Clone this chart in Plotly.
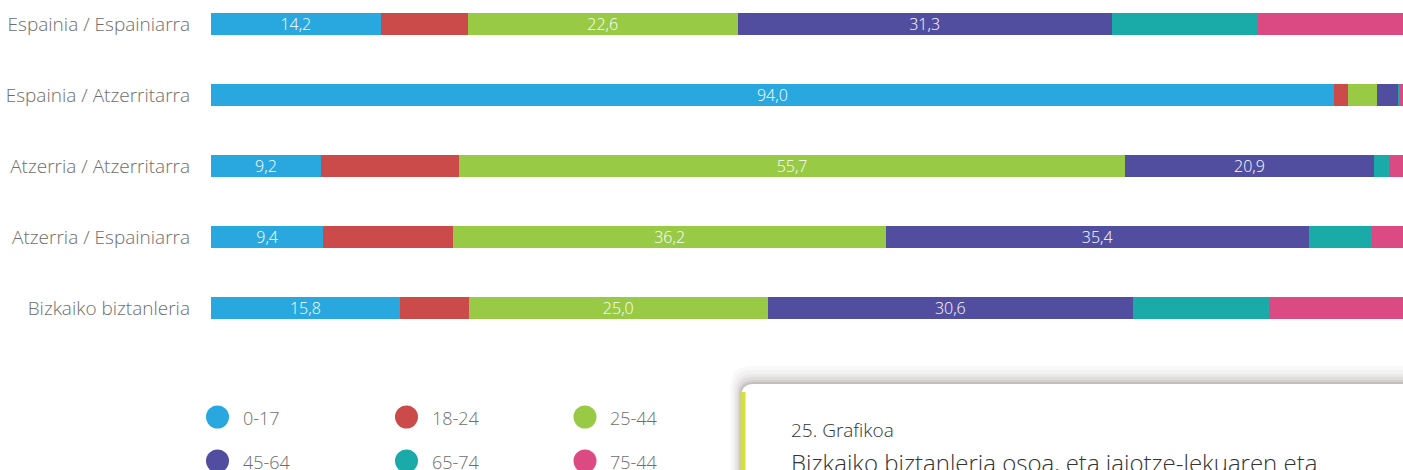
import plotly.graph_objects as go

# ---------------- data ----------------
categories = [
    "Espainia / Espainiarra",
    "Espainia / Atzerritarra",
    "Atzerria / Atzerritarra",
    "Atzerria / Espainiarra",
    "Bizkaiko biztanleria",
]
age_groups = ["0-17", "18-24", "25-44", "45-64", "65-74", "75-44"]
colors = ["#29a8e0", "#cb4a4a", "#99ca46", "#514ea0", "#1aaba8", "#dc4a84"]

v_0_17 = [14.2, 94.0, 9.2, 9.4, 15.8]
v_18_24 = [7.3, 1.2, 11.6, 10.9, 5.8]
v_25_44 = [22.6, 2.4, 55.7, 36.2, 25.0]
v_45_64 = [31.3, 1.8, 20.9, 35.4, 30.6]
v_65_74 = [12.3, 0.1, 1.2, 5.3, 11.4]
v_75 = [12.3, 0.5, 1.2, 2.8, 11.5]
series = [v_0_17, v_18_24, v_25_44, v_45_64, v_65_74, v_75]
labelled_groups = ["0-17", "25-44", "45-64"]

caption_num = "25. Grafikoa"
caption_title = "Bizkaiko biztanleria osoa, eta jaiotze-lekuaren eta"

# ---------------- geometry helpers ----------------
W, H = 1403, 470
ML, MR, MT, MB = 211, 0, 0, 126
PW, PH = W - ML - MR, H - MT - MB


def px(x):
    return (x - ML) / PW


def py(y):
    return 1 - (y - MT) / PH


FONT = "Open Sans"
GREY = "#6e6e6e"

fig = go.Figure()
for name, vals, col in zip(age_groups, series, colors):
    texts = [
        (f"{v:.1f}".replace(".", ",") if (name in labelled_groups and v > 5) else "")
        for v in vals
    ]
    fig.add_trace(
        go.Bar(
            y=categories,
            x=vals,
            name=name,
            orientation="h",
            marker=dict(color=col, line=dict(width=0)),
            text=texts,
            textposition="inside",
            insidetextanchor="middle",
            textangle=0,
            constraintext="none",
            textfont=dict(color="white", size=16, family=FONT, weight=300),
            width=0.31,
            showlegend=False,
            hoverinfo="x+name",
        )
    )

shapes = []
annotations = []

# legend (two rows of three)
leg_cols_circle = [217.5, 406.5, 585]
leg_cols_text = [241, 430, 608]
leg_rows = [417, 461]
for i, (name, col) in enumerate(zip(age_groups, colors)):
    r, c = divmod(i, 3)
    cx, cy = leg_cols_circle[c], leg_rows[r]
    rad = 11.5
    shapes.append(dict(type="circle", xref="paper", yref="paper",
                       x0=px(cx - rad), x1=px(cx + rad), y0=py(cy + rad), y1=py(cy - rad),
                       fillcolor=col, line=dict(width=0), layer="above"))
    annotations.append(dict(text=name, xref="paper", yref="paper",
                            x=px(leg_cols_text[c]), y=py(cy + 1), xanchor="left", yanchor="middle",
                            showarrow=False, font=dict(size=18, color=GREY, family=FONT, weight=300)))

# caption card with shadow
cx0, cy0, rr = 741, 384, 13


def card_path(x0, y0, r, x1=1450, y1=520):
    return (f"M {px(x0)},{py(y1)} L {px(x0)},{py(y0 + r)} "
            f"Q {px(x0)},{py(y0)} {px(x0 + r)},{py(y0)} "
            f"L {px(x1)},{py(y0)} L {px(x1)},{py(y1)} Z")


# shadow layers
for k, op in [(18, 0.04), (14, 0.05), (10, 0.07), (7, 0.09), (4, 0.12), (2, 0.16)]:
    shapes.append(dict(type="path", xref="paper", yref="paper",
                       path=card_path(cx0 - k * 0.6, cy0 - k, rr + k * 0.5),
                       fillcolor="#7a6e6e", opacity=op, line=dict(width=0), layer="above"))
shapes.append(dict(type="path", xref="paper", yref="paper",
                   path=card_path(cx0, cy0, rr), fillcolor="white",
                   line=dict(width=0), layer="above"))
shapes.append(dict(type="rect", xref="paper", yref="paper",
                   x0=px(740.5), x1=px(745.5), y0=py(480), y1=py(392),
                   fillcolor="#d5e03c", line=dict(width=0), layer="above"))

annotations.append(dict(text=caption_num, xref="paper", yref="paper",
                        x=px(789), y=py(430), xanchor="left", yanchor="middle",
                        showarrow=False, font=dict(size=19, color="#333333", family=FONT, weight=300)))
annotations.append(dict(text=caption_title, xref="paper", yref="paper",
                        x=px(789), y=py(462), xanchor="left", yanchor="middle",
                        showarrow=False, font=dict(size=24, color="#333333", family=FONT, weight=300)))

fig.update_layout(
    width=W, height=H,
    margin=dict(l=ML, r=MR, t=MT, b=MB, pad=0),
    barmode="stack",
    paper_bgcolor="white", plot_bgcolor="white",
    shapes=shapes, annotations=annotations,
    showlegend=False,
    xaxis=dict(range=[0, 99.8], visible=False, fixedrange=True),
    yaxis=dict(
        categoryorder="array", categoryarray=categories,
        range=[4.5, -0.338],
        showgrid=False, zeroline=False, showline=False, ticks="",
        ticklabelstandoff=20,
        tickfont=dict(size=19, color=GREY, family=FONT, weight=300),
        fixedrange=True,
    ),
    font=dict(family=FONT),
)

fig.write_html(
    "out.html",
    config={"displayModeBar": False},
    post_script="document.body.style.margin='0';document.body.style.overflow='hidden';",
)
